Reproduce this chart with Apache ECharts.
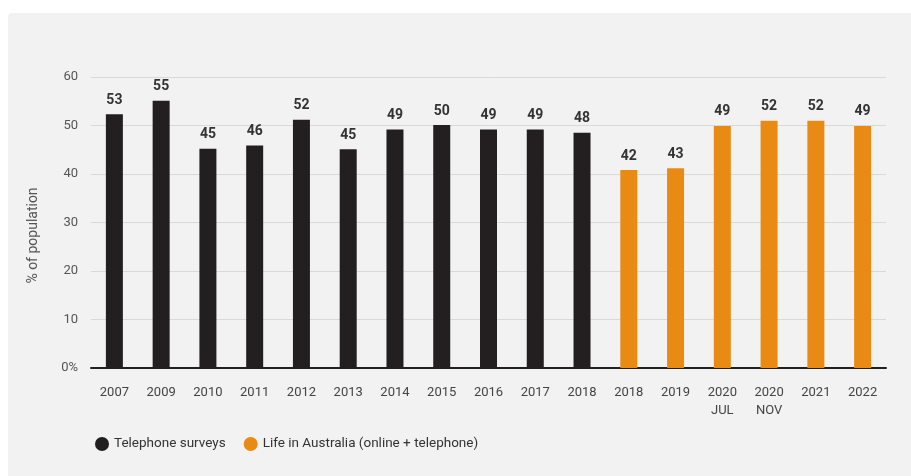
<!DOCTYPE html>
<html>
<head>
<meta charset="utf-8">
<script src="https://cdn.jsdelivr.net/npm/echarts@6/dist/echarts.min.js"></script>
<style>
html,body{margin:0;padding:0;background:#ffffff;}
#chart{width:911px;height:476px;}
</style>
</head>
<body>
<div id="chart"></div>
<script>
var categories = ['2007','2009','2010','2011','2012','2013','2014','2015','2016','2017','2018','2018','2019','2020\nJUL','2020\nNOV','2021','2022'];
// bar heights
var telephoneHeights = [52.3,55.1,45.2,45.9,51.2,45.1,49.2,50.1,49.2,49.2,48.5,null,null,null,null,null,null];
var liaHeights = [null,null,null,null,null,null,null,null,null,null,null,40.8,41.2,49.9,51.0,51.0,49.9];
// printed value labels
var telephoneLabels = [53,55,45,46,52,45,49,50,49,49,48,null,null,null,null,null,null];
var liaLabels = [null,null,null,null,null,null,null,null,null,null,null,42,43,49,52,52,49];
var yTicks = [0,10,20,30,40,50,60];

var chart = echarts.init(document.getElementById('chart'));
var font = 'Roboto, "Liberation Sans", sans-serif';
chart.setOption({
  animation:false,
  textStyle:{fontFamily:font},
  graphic:[{type:'rect',z:-10,shape:{x:8,y:13,width:920,height:480,r:4},style:{fill:'#f2f2f2'}}],
  grid:{left:91,right:25,top:77,bottom:108,containLabel:false},
  legend:{
    left:90, top:432, icon:'circle', itemWidth:14, itemHeight:14, itemGap:18,
    textStyle:{fontSize:13.5,color:'#333',fontFamily:font},
    data:['Telephone surveys','Life in Australia (online + telephone)']
  },
  xAxis:{
    type:'category', data:categories,
    axisLine:{lineStyle:{color:'#231f20',width:2}},
    axisTick:{show:false},
    axisLabel:{color:'#444',fontSize:13,margin:16,lineHeight:18,interval:0,fontFamily:font}
  },
  yAxis:{
    type:'value', min:0, max:60, interval:10,
    name:'% of population', nameLocation:'middle', nameGap:51, nameRotate:90,
    nameTextStyle:{color:'#555',fontSize:14,fontFamily:font,padding:[0,26,0,0]},
    axisLine:{show:false}, axisTick:{show:false},
    splitLine:{lineStyle:{color:'#d9d9d9',width:1}},
    axisLabel:{color:'#555',fontSize:13,margin:13,fontFamily:font,
      formatter:function(v){return yTicks.indexOf(v)===0 ? v+'%' : String(v);}}
  },
  series:[
    {name:'Telephone surveys',type:'bar',stack:'s',barWidth:17,data:telephoneHeights,
     itemStyle:{color:'#231f20'},
     label:{show:true,position:'top',distance:7,color:'#333',fontWeight:'bold',fontSize:14,fontFamily:font,
       formatter:function(p){return telephoneLabels[p.dataIndex];}}},
    {name:'Life in Australia (online + telephone)',type:'bar',stack:'s',barWidth:17,data:liaHeights,
     itemStyle:{color:'#e98a15'},
     label:{show:true,position:'top',distance:7,color:'#333',fontWeight:'bold',fontSize:14,fontFamily:font,
       formatter:function(p){return liaLabels[p.dataIndex];}}}
  ]
});
</script>
</body>
</html>
